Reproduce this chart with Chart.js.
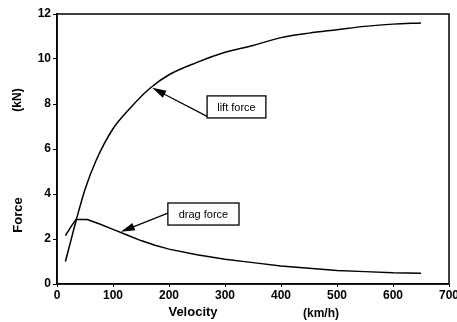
<!DOCTYPE html>
<html>
<head>
<meta charset="utf-8">
<script src="https://cdn.jsdelivr.net/npm/chart.js@4/dist/chart.umd.min.js"></script>
<style>
  html, body { margin: 0; padding: 0; background: #fff; }
  #wrap { width: 457px; height: 322px; }
</style>
</head>
<body>
<div id="wrap"><canvas id="forceChart" width="457" height="322"></canvas></div>
<script>
// velocity (km/h) and forces (kN)
const liftVelocity = [15, 25, 35, 50, 70, 100, 130, 166, 200, 250, 300, 350, 400, 450, 500, 550, 600, 650];
const liftForce = [1.0, 1.95, 2.9, 4.2, 5.5, 6.9, 7.8, 8.7, 9.3, 9.85, 10.3, 10.6, 10.95, 11.15, 11.3, 11.45, 11.55, 11.6];

const dragVelocity = [15, 25, 34, 54, 75, 100, 125, 150, 175, 200, 250, 300, 350, 400, 450, 500, 550, 600, 650];
const dragForce = [2.15, 2.55, 2.87, 2.87, 2.68, 2.43, 2.18, 1.93, 1.72, 1.55, 1.3, 1.1, 0.95, 0.8, 0.7, 0.6, 0.55, 0.5, 0.48];

const xTicks = [0, 100, 200, 300, 400, 500, 600, 700];
const yTicks = [0, 2, 4, 6, 8, 10, 12];

// callouts in data units: box corners, arrow tail and tip
const callouts = [
  { text: "lift force", box: [268, 8.36, 373, 7.38], tail: [268, 7.45], tip: [170, 8.72] },
  { text: "drag force", box: [198, 3.6, 325, 2.62], tail: [198, 3.15], tip: [114, 2.32] }
];

function toPoints(xs, ys) {
  return xs.map((x, i) => ({ x: x, y: ys[i] }));
}

const decorations = {
  id: "decorations",
  afterDraw(chart) {
    const c = chart.ctx;
    const a = chart.chartArea;
    const sx = chart.scales.x, sy = chart.scales.y;
    c.save();
    c.strokeStyle = "#000";
    c.lineWidth = 1.5;
    c.strokeRect(a.left, a.top, a.right - a.left, a.bottom - a.top);

    callouts.forEach(cl => {
      const x1 = sx.getPixelForValue(cl.box[0]), y1 = sy.getPixelForValue(cl.box[1]);
      const x2 = sx.getPixelForValue(cl.box[2]), y2 = sy.getPixelForValue(cl.box[3]);
      c.fillStyle = "#fff";
      c.fillRect(x1, y1, x2 - x1, y2 - y1);
      c.lineWidth = 1.3;
      c.strokeRect(x1, y1, x2 - x1, y2 - y1);
      c.fillStyle = "#000";
      c.font = "11px 'Liberation Sans', Arial, sans-serif";
      c.textAlign = "center";
      c.textBaseline = "middle";
      c.fillText(cl.text, (x1 + x2) / 2, (y1 + y2) / 2 + 1);

      const tx = sx.getPixelForValue(cl.tail[0]), ty = sy.getPixelForValue(cl.tail[1]);
      const hx = sx.getPixelForValue(cl.tip[0]), hy = sy.getPixelForValue(cl.tip[1]);
      const ang = Math.atan2(hy - ty, hx - tx);
      c.lineWidth = 1.2;
      c.beginPath();
      c.moveTo(tx, ty);
      c.lineTo(hx - 10 * Math.cos(ang), hy - 10 * Math.sin(ang));
      c.stroke();
      c.beginPath();
      c.moveTo(hx, hy);
      c.lineTo(hx - 14 * Math.cos(ang) + 4 * Math.sin(ang), hy - 14 * Math.sin(ang) - 4 * Math.cos(ang));
      c.lineTo(hx - 14 * Math.cos(ang) - 4 * Math.sin(ang), hy - 14 * Math.sin(ang) + 4 * Math.cos(ang));
      c.closePath();
      c.fill();
    });

    // axis titles
    c.fillStyle = "#000";
    c.textAlign = "center";
    c.textBaseline = "middle";
    c.font = "bold 13px 'Liberation Sans', Arial, sans-serif";
    c.fillText("Velocity", 193, 312);
    c.font = "bold 12px 'Liberation Sans', Arial, sans-serif";
    c.fillText("(km/h)", 321, 314);
    c.save();
    c.translate(18, 215);
    c.rotate(-Math.PI / 2);
    c.font = "bold 13px 'Liberation Sans', Arial, sans-serif";
    c.fillText("Force", 0, 0);
    c.restore();
    c.save();
    c.translate(18, 100);
    c.rotate(-Math.PI / 2);
    c.font = "bold 12px 'Liberation Sans', Arial, sans-serif";
    c.fillText("(kN)", 0, 0);
    c.restore();
    c.restore();
  }
};

new Chart(document.getElementById("forceChart"), {
  type: "scatter",
  data: {
    datasets: [
      {
        label: "lift force",
        data: toPoints(liftVelocity, liftForce),
        showLine: true,
        borderColor: "#000",
        borderWidth: 1.5,
        pointRadius: 0,
        cubicInterpolationMode: "monotone"
      },
      {
        label: "drag force",
        data: toPoints(dragVelocity, dragForce),
        showLine: true,
        borderColor: "#000",
        borderWidth: 1.5,
        pointRadius: 0,
        tension: 0
      }
    ]
  },
  options: {
    responsive: false,
    animation: false,
    layout: { padding: { top: 14, right: 8, left: 0, bottom: 0 } },
    plugins: { legend: { display: false }, tooltip: { enabled: false } },
    scales: {
      x: {
        type: "linear",
        min: 0,
        max: 700,
        afterBuildTicks: s => { s.ticks = xTicks.map(v => ({ value: v })); },
        afterFit: s => { s.height = 38; s.paddingLeft = 0; s.paddingRight = 0; },
        border: { display: true, color: "#000", width: 1.5 },
        grid: { display: true, drawOnChartArea: false, drawTicks: true, tickLength: 3, color: "#000" },
        ticks: { color: "#000", padding: 1, maxRotation: 0, font: { family: "'Liberation Sans', Arial, sans-serif", size: 12, weight: "bold" } }
      },
      y: {
        min: 0,
        max: 12,
        afterBuildTicks: s => { s.ticks = yTicks.map(v => ({ value: v })); },
        afterFit: s => { s.width = 57; s.paddingTop = 0; s.paddingBottom = 0; },
        border: { display: true, color: "#000", width: 1.5 },
        grid: { display: true, drawOnChartArea: false, drawTicks: true, tickLength: 4, color: "#000" },
        ticks: { color: "#000", padding: 2, font: { family: "'Liberation Sans', Arial, sans-serif", size: 12, weight: "bold" } }
      }
    }
  },
  plugins: [decorations]
});
</script>
</body>
</html>
